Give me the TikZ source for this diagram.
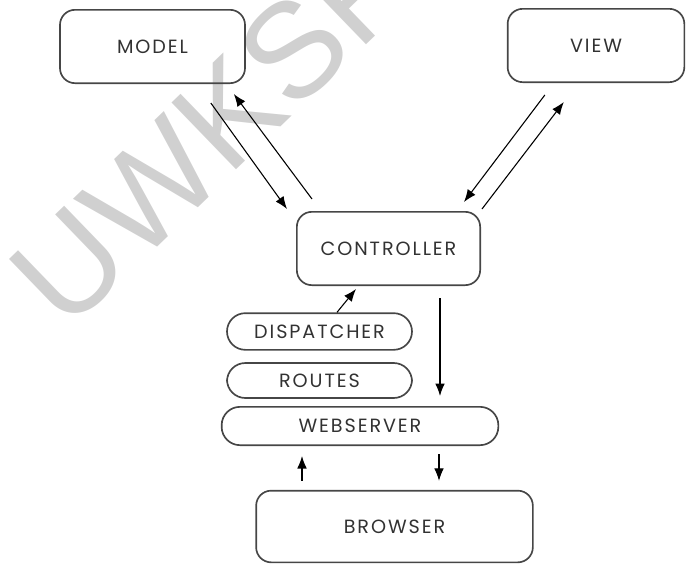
\documentclass[tikz,border=0pt]{standalone}
\usepackage{fontspec}
\setmainfont{Poppins}
\newfontfamily\labelfont[LetterSpace=10]{Poppins}
\newfontfamily\markfont{Liberation Sans}
\usepackage{tikz}
\usetikzlibrary{calc, arrows.meta, positioning}
\definecolor{boxline}{RGB}{70, 70, 70}
\definecolor{labelgray}{RGB}{50, 50, 50}
\definecolor{markgray}{RGB}{208, 208, 208}

\tikzset{
    block/.style={draw=boxline, line width=1pt, rounded corners=9pt,
        minimum width=#1, minimum height=44pt, inner sep=0pt,
        text=labelgray, font=\labelfont\fontsize{11.5}{13}\selectfont},
    block/.default=110pt,
    pill/.style={draw=boxline, line width=1pt, rounded corners=11pt,
        minimum width=#1, minimum height=22pt, inner sep=0pt,
        text=labelgray, font=\labelfont\fontsize{11.5}{13}\selectfont},
    pill/.default=111pt,
    link/.style={->, line width=0.65pt}
}

\begin{document}
\begin{tikzpicture}[x=0.6pt, y=-0.6pt, line join=round, >={Latex[length=7.5pt, width=5.8pt]}]
    % y grows downwards here, 1 unit = 1 px of the layout
    \useasboundingbox (0,0) rectangle (686,564);

    % Watermark behind everything
    \node[text=markgray, rotate=44, inner sep=0pt, font=\markfont\fontsize{81}{90}\selectfont]
        (mark) at (210,131) {UWKSF};

    % MVC boxes
    \node[block=111pt] (model) at (152.5,46.5) {MODEL};
    \node[block=106pt] (view) at (596,45.5) {VIEW};
    \node[block=110pt] (ctrl) at (388.5,248.5) {CONTROLLER};

    % Request chain
    \node[pill] (disp) at (319.5,331.5) {DISPATCHER};
    \node[pill, minimum height=21pt] (routes) at (319.5,380.5) {ROUTES};
    \node[pill=166pt, minimum height=23pt] (web) at (360,426) {WEBSERVER};
    \node[block=166pt, minimum height=43pt] (browser) at (394.5,526.5) {BROWSER};

    % Model <-> Controller
    \draw[link] ($(model.south east)+(-35,19)$) -- ($(ctrl.north west)+(-9,-2)$);
    \draw[link] ($(ctrl.north west)+(16,-12)$) -- ($(model.south east)+(-12,10)$);

    % View <-> Controller
    \draw[link] ($(view.south west)+(38,12)$) -- ($(ctrl.north east)+(-17,-9)$);
    \draw[link] ($(ctrl.north east)+(1,-2)$) -- ($(view.south west)+(57,19)$);

    % Dispatcher -> Controller -> Webserver
    \draw[link] ($(disp.north)+(17.5,0)$) -- ($(ctrl.south west)+(60,3)$);
    \draw[link] ($(ctrl.south)+(51.5,12)$) -- ($(web.north)+(80,-10)$);

    % Webserver <-> Browser
    \draw[link] ($(browser.north)+(-92.5,-9)$) -- ($(web.south)+(-58,10)$);
    \draw[link] ($(web.south)+(79,8)$) -- ($(browser.north)+(44.5,-9)$);
\end{tikzpicture}
\end{document}
